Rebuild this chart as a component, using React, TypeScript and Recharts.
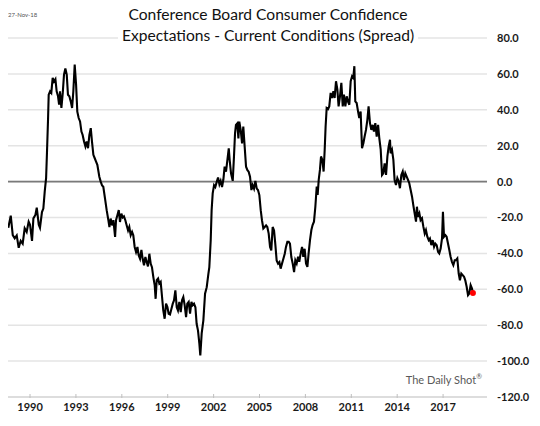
import React from 'react'
import { LineChart, Line, CartesianGrid, XAxis, YAxis, ReferenceLine } from 'recharts';

// decimal year of each reading
const years = [
  1988.58, 1988.74, 1988.87, 1989.00, 1989.13, 1989.26, 1989.39, 1989.52, 1989.65, 1989.78,
  1989.91, 1990.00, 1990.13, 1990.22, 1990.35, 1990.44, 1990.57, 1990.65, 1990.78, 1990.87,
  1990.96, 1991.05, 1991.11, 1991.18, 1991.22, 1991.31, 1991.39, 1991.48, 1991.57, 1991.66,
  1991.74, 1991.83, 1991.90, 1991.96, 1992.05, 1992.14, 1992.22, 1992.31, 1992.40, 1992.48,
  1992.57, 1992.66, 1992.75, 1992.83, 1992.92, 1993.01, 1993.09, 1993.18, 1993.27, 1993.36,
  1993.44, 1993.53, 1993.62, 1993.70, 1993.79, 1993.88, 1993.97, 1994.05, 1994.14, 1994.23,
  1994.31, 1994.40, 1994.53, 1994.62, 1994.71, 1994.79, 1994.90, 1995.01, 1995.12, 1995.19,
  1995.27, 1995.36, 1995.45, 1995.56, 1995.62, 1995.71, 1995.80, 1995.88, 1995.97, 1996.06,
  1996.14, 1996.23, 1996.32, 1996.41, 1996.49, 1996.58, 1996.67, 1996.75, 1996.84, 1996.93,
  1997.02, 1997.10, 1997.19, 1997.28, 1997.36, 1997.45, 1997.54, 1997.63, 1997.71, 1997.80,
  1997.89, 1997.97, 1998.06, 1998.15, 1998.21, 1998.28, 1998.37, 1998.45, 1998.54, 1998.63,
  1998.71, 1998.80, 1998.89, 1998.98, 1999.06, 1999.15, 1999.24, 1999.33, 1999.41, 1999.50,
  1999.59, 1999.67, 1999.76, 1999.85, 1999.94, 2000.02, 2000.11, 2000.20, 2000.28, 2000.37,
  2000.46, 2000.55, 2000.63, 2000.72, 2000.81, 2000.89, 2000.98, 2001.07, 2001.13, 2001.22,
  2001.33, 2001.44, 2001.55, 2001.66, 2001.72, 2001.81, 2001.87, 2001.94, 2002.03, 2002.11,
  2002.20, 2002.29, 2002.38, 2002.46, 2002.55, 2002.64, 2002.72, 2002.81, 2002.90, 2002.99,
  2003.05, 2003.14, 2003.25, 2003.33, 2003.40, 2003.46, 2003.55, 2003.62, 2003.68, 2003.77,
  2003.86, 2003.94, 2004.03, 2004.12, 2004.21, 2004.29, 2004.38, 2004.47, 2004.55, 2004.64,
  2004.73, 2004.82, 2004.90, 2004.99, 2005.08, 2005.16, 2005.25, 2005.34, 2005.43, 2005.51,
  2005.60, 2005.69, 2005.77, 2005.86, 2005.95, 2006.03, 2006.12, 2006.21, 2006.30, 2006.38,
  2006.47, 2006.56, 2006.65, 2006.73, 2006.82, 2006.91, 2006.99, 2007.08, 2007.17, 2007.26,
  2007.34, 2007.43, 2007.52, 2007.60, 2007.69, 2007.78, 2007.86, 2007.95, 2008.04, 2008.13,
  2008.21, 2008.30, 2008.39, 2008.47, 2008.56, 2008.65, 2008.74, 2008.80, 2008.87, 2008.95,
  2009.02, 2009.11, 2009.19, 2009.26, 2009.32, 2009.39, 2009.48, 2009.56, 2009.65, 2009.74,
  2009.83, 2009.91, 2010.00, 2010.09, 2010.17, 2010.26, 2010.35, 2010.44, 2010.52, 2010.61,
  2010.70, 2010.78, 2010.87, 2010.96, 2011.05, 2011.13, 2011.20, 2011.26, 2011.35, 2011.44,
  2011.52, 2011.61, 2011.70, 2011.79, 2011.87, 2011.96, 2012.05, 2012.13, 2012.22, 2012.31,
  2012.40, 2012.48, 2012.57, 2012.66, 2012.75, 2012.83, 2012.92, 2013.01, 2013.09, 2013.18,
  2013.27, 2013.36, 2013.44, 2013.53, 2013.57, 2013.66, 2013.75, 2013.83, 2013.92, 2014.01,
  2014.10, 2014.18, 2014.27, 2014.36, 2014.44, 2014.53, 2014.62, 2014.71, 2014.79, 2014.88,
  2014.97, 2015.05, 2015.14, 2015.23, 2015.29, 2015.36, 2015.45, 2015.53, 2015.62, 2015.71,
  2015.80, 2015.88, 2015.97, 2016.06, 2016.14, 2016.23, 2016.32, 2016.41, 2016.49, 2016.58,
  2016.67, 2016.75, 2016.84, 2016.93, 2016.99, 2017.06, 2017.15, 2017.23, 2017.32, 2017.41,
  2017.49, 2017.58, 2017.67, 2017.76, 2017.84, 2017.93, 2018.02, 2018.10, 2018.19, 2018.28,
  2018.37, 2018.45, 2018.54, 2018.63, 2018.71, 2018.80, 2018.89, 2018.95,
]

// expectations minus present situation
const spread = [
  -25.7, -19, -29.8, -31.6, -30, -36.9, -33, -34.6, -26, -28,
  -22.3, -24, -33, -20.5, -18.6, -14.5, -24, -25.7, -17, -15,
  -5.6, 1.9, 16.8, 35.4, 48.4, 50.3, 49.4, 57.8, 55.7, 57,
  50.3, 47.5, 42.9, 50.3, 41, 49.4, 59.6, 63, 59.6, 48.4,
  47.5, 44.7, 41, 50.3, 65.2, 54, 39, 35.4, 33.5, 27.9,
  26, 22.3, 19.6, 22.3, 18.6, 26, 29.8, 22.3, 14.9, 13,
  11.2, 9.3, 2.7, 0, -2.2, -2.9, -9.4, -15.9, -21.5, -25.3,
  -20.6, -24.4, -21.5, -30.8, -21.5, -18.7, -15.9, -22.5, -17.8, -20,
  -19.4, -21.5, -24.4, -27.2, -25.3, -29.9, -28, -29.9, -36.4, -39.2,
  -36.4, -41, -43, -38, -43, -46.6, -42, -44.9, -47.3, -40.2,
  -45.8, -47.7, -53.2, -57.8, -65.3, -54.9, -54, -56.8, -55.9, -64.3,
  -71.8, -76.4, -68, -69.9, -73.6, -74, -71, -68, -66.2, -60.6,
  -70, -71.8, -67, -72.7, -66, -64.3, -68.9, -75.5, -68, -67,
  -73.6, -67, -68.9, -68, -70, -79.2, -83, -90.4, -96.9, -84.6,
  -77.3, -62.5, -58.8, -51.3, -47.6, -32.7, -15.9, -6.6, -2, -3,
  -0.3, 2.3, -1.5, 0.4, -3, 1.3, 8.3, 5.5, 12, 18.5,
  12, 4.5, 0.4, 13.8, 26.9, 31.5, 32.4, 24.1, 33.4, 28.8,
  21.3, 30.6, 19.5, 8.3, 6.4, 5.5, 2.7, -4.7, -2, -3.9,
  0.4, -3.9, -4.7, -7.5, -15.9, -21.5, -26.1, -25.3, -24.4, -25.3,
  -29, -36.4, -38.3, -25.3, -27.2, -34.6, -43.9, -45.7, -44.8, -48.5,
  -45.7, -43, -40.2, -36.4, -33.6, -33.6, -34.6, -42, -45.7, -50.4,
  -43.8, -45.6, -41.9, -44.7, -40, -36.4, -41.9, -37.4, -45.6, -47.5,
  -40, -32.6, -27, -24.2, -22.3, -14, -2.8, -7.4, 1, 6.5,
  14, 12, 5.6, 17.6, 30.6, 41, 40.4, 41.9, 49.4, 46.6,
  50.3, 46.6, 55.9, 51.2, 41.9, 47.5, 55, 41.9, 48.4, 41.9,
  47.5, 44.7, 42.8, 55.9, 58.7, 57.8, 64.3, 44.7, 43.8, 39.1,
  35.4, 39.1, 18.6, 21.4, 25.1, 28.8, 34.4, 41.9, 32.6, 28.8,
  31.6, 27.9, 32.6, 25.1, 31.6, 24.2, 18, 3.7, 4.6, 10.2,
  3.7, 14, 19.5, 23.3, 15.8, 17.7, 12.1, 0.9, -1.9, 1.9,
  0, -3.7, 3.7, 5.6, 0.9, 4.6, 2.8, 0.9, -0.9, -4.7,
  -8.4, -13, -17.7, -22.3, -14, -19.6, -17.7, -21.5, -20.5, -25.1,
  -28.9, -27, -30.7, -32.6, -31.7, -35.4, -32.6, -36.3, -34.5, -35.4,
  -39.1, -40, -37.3, -31.7, -16.8, -30.7, -29.8, -30.7, -34.5, -38.2,
  -41.9, -44.7, -46.5, -43.8, -43.8, -42.8, -51.2, -55, -51.2, -52.1,
  -53, -55, -58.6, -63.3, -62.4, -57.7, -59.6, -62.1,
]

const yearTicks = [1990, 1993, 1996, 1999, 2002, 2005, 2008, 2011, 2014, 2017]
const valueTicks = [-120, -100, -80, -60, -40, -20, 0, 20, 40, 60, 80]

const data = years.map((year, i) => ({ year, spread: spread[i] }))
const lastIndex = data.length - 1

const font = 'Lato, "Open Sans", sans-serif'

const YearTick = (props: any) => {
  const { x, y, payload } = props
  const axisY = y - 6
  return (
    <g>
      <line x1={x} x2={x} y1={axisY - 3} y2={axisY + 1} stroke="#bfbfbf" strokeWidth={1} />
      <text x={x} y={y} dy="0.71em" textAnchor="middle" fill="#1a1a1a" fontSize={11} fontWeight={700} fontFamily={font}>
        {payload.value}
      </text>
    </g>
  )
}

const LastDot = (props: any) => {
  const { cx, cy, index } = props
  if (index !== lastIndex) return <g key={index} />
  return <circle key={index} cx={cx} cy={cy} r={3} fill="#ff0000" stroke="none" />
}

const titleLine: React.CSSProperties = { display: 'inline-block', background: '#fff', padding: '0 4px' }

const App: React.FC = () => {
  return (
    <div style={{ position: 'relative', width: 530, height: 418, fontFamily: font }}>
      <LineChart width={530} height={418} data={data} margin={{ top: 30, right: 0, left: 0, bottom: 9 }}>
        <CartesianGrid vertical={false} stroke="#e4e4e4" strokeWidth={1.5} />
        <XAxis
          dataKey="year"
          type="number"
          domain={[1988.56, 2019.87]}
          ticks={yearTicks}
          allowDataOverflow
          height={20}
          tickLine={false}
          tickSize={4}
          tickMargin={2}
          axisLine={{ stroke: '#d9d9d9', strokeWidth: 1.5 }}
          tick={<YearTick />}
          interval={0}
        />
        <YAxis
          orientation="right"
          type="number"
          domain={[-120, 80]}
          ticks={valueTicks}
          width={51}
          axisLine={false}
          tickLine={false}
          tickMargin={4}
          interval={0}
          tickFormatter={(v: number) => v.toFixed(1)}
          tick={{ fill: '#1a1a1a', fontSize: 11, fontWeight: 700, fontFamily: font }}
        />
        <ReferenceLine y={0} stroke="#7a7a7a" strokeWidth={1.8} />
        <Line
          type="linear"
          dataKey="spread"
          stroke="#000"
          strokeWidth={2.1}
          dot={<LastDot />}
          activeDot={false}
          isAnimationActive={false}
        />
      </LineChart>
      <div style={{ position: 'absolute', left: 0, top: 3, fontSize: 6, color: '#555' }}>27-Nov-18</div>
      <div style={{ position: 'absolute', left: 0, top: -4, width: 520, textAlign: 'center', fontSize: 15.6, lineHeight: '21px', color: '#111' }}>
        <div><span style={titleLine}>Conference Board Consumer Confidence</span></div>
        <div><span style={titleLine}>Expectations - Current Conditions (Spread)</span></div>
      </div>
      <div style={{ position: 'absolute', left: 330, width: 144, top: 364, textAlign: 'right', fontSize: 11, color: '#595959' }}>
        The Daily Shot<sup style={{ fontSize: 7 }}>®</sup>
      </div>
    </div>
  )
}

export default App
